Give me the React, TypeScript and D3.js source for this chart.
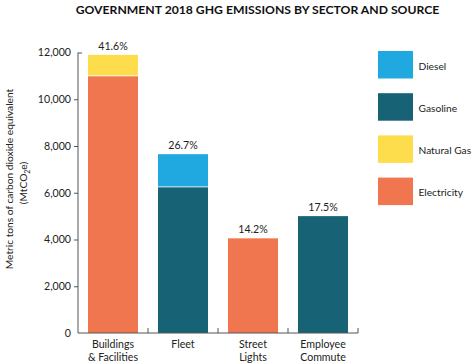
import React, { useRef, useEffect } from 'react';
import * as d3 from 'd3';

const sectors = ['Buildings & Facilities', 'Fleet', 'Street Lights', 'Employee Commute'];
const sectorLines = [['Buildings', '& Facilities'], ['Fleet'], ['Street', 'Lights'], ['Employee', 'Commute']];
const sources = ['Electricity', 'Natural Gas', 'Gasoline', 'Diesel'];
const electricity = [11000, 0, 4050, 0];
const naturalGas = [900, 0, 0, 0];
const gasoline = [0, 6250, 0, 5000];
const diesel = [0, 1400, 0, 0];
const percentLabels = ['41.6%', '26.7%', '14.2%', '17.5%'];
const yTicks = [0, 2000, 4000, 6000, 8000, 10000, 12000];
const legendOrder = ['Diesel', 'Gasoline', 'Natural Gas', 'Electricity'];

const colors: Record<string, string> = {
  Diesel: '#20a9e0',
  Gasoline: '#176275',
  'Natural Gas': '#fedd4c',
  Electricity: '#ef764f',
};

const W = 474;
const H = 364;
const margin = { top: 52.5, right: 116, bottom: 31, left: 78 };
const font = 'Lato, sans-serif';
const fs = 10.6;

export default function App() {
  const svgRef = useRef<SVGSVGElement>(null);

  useEffect(() => {
    if (!svgRef.current) return;
    const svg = d3.select(svgRef.current);
    svg.selectAll('*').remove();

    const innerW = W - margin.left - margin.right;
    const innerH = H - margin.top - margin.bottom;

    const x = d3.scaleBand().domain(sectors).range([0, innerW]).paddingInner(2 / 7).paddingOuter(1 / 7);
    const y = d3.scaleLinear().domain([0, 12000]).range([innerH, 0]);

    const rows = sectors.map((s, i) => ({
      sector: s,
      Electricity: electricity[i],
      'Natural Gas': naturalGas[i],
      Gasoline: gasoline[i],
      Diesel: diesel[i],
    }));
    const totals = rows.map(r => d3.sum(sources, k => (r as any)[k]));
    const stacked = d3.stack<any>().keys(sources)(rows);

    // title
    svg.append('text')
      .attr('x', 257.5)
      .attr('y', 14)
      .attr('text-anchor', 'middle')
      .attr('font-family', font)
      .attr('font-weight', 'bold')
      .attr('font-size', 12.2)
      .attr('fill', '#111')
      .text('GOVERNMENT 2018 GHG EMISSIONS BY SECTOR AND SOURCE');

    const g = svg.append('g').attr('transform', `translate(${margin.left},${margin.top})`);

    // bars
    stacked.forEach(layer => {
      g.append('g')
        .selectAll('rect')
        .data(layer.filter(d => d[1] - d[0] > 0))
        .enter()
        .append('rect')
        .attr('x', d => x(d.data.sector) || 0)
        .attr('y', d => y(d[1]))
        .attr('width', x.bandwidth())
        .attr('height', d => y(d[0]) - y(d[1]))
        .attr('fill', colors[layer.key]);
    });

    // thin white separators between stacked segments
    stacked.slice(0, -1).forEach(layer => {
      g.append('g')
        .selectAll('line')
        .data(layer.filter((d, i) => d[1] - d[0] > 0 && d[1] < totals[i]))
        .enter()
        .append('line')
        .attr('x1', d => x(d.data.sector) || 0)
        .attr('x2', d => (x(d.data.sector) || 0) + x.bandwidth())
        .attr('y1', d => y(d[1]))
        .attr('y2', d => y(d[1]))
        .attr('stroke', '#fff')
        .attr('stroke-width', 0.8);
    });

    // percent labels
    g.selectAll('.pct')
      .data(rows)
      .enter()
      .append('text')
      .attr('x', d => (x(d.sector) || 0) + x.bandwidth() / 2)
      .attr('y', (d, i) => y(totals[i]) - 5)
      .attr('text-anchor', 'middle')
      .attr('font-family', font)
      .attr('font-size', fs)
      .attr('fill', '#222')
      .text((d, i) => percentLabels[i]);

    // y axis
    const yAxis = g.append('g')
      .call(d3.axisLeft(y).tickValues(yTicks).tickSize(4).tickPadding(3).tickFormat(d3.format(',')));
    yAxis.select('.domain').attr('stroke', '#555').attr('d', `M0,${innerH}V0`);
    yAxis.selectAll('.tick line').attr('stroke', '#555');
    yAxis.selectAll('.tick').filter((d: any) => d === 12000).select('line').attr('x2', 4);
    yAxis.selectAll('.tick').filter((d: any) => d === 0).select('line').remove();
    yAxis.selectAll('text').attr('font-family', font).attr('font-size', fs).attr('fill', '#222');

    // x axis
    const xAxis = g.append('g').attr('transform', `translate(0,${innerH})`);
    xAxis.append('line').attr('x1', 0).attr('x2', innerW).attr('stroke', '#555');
    xAxis.selectAll('.xt')
      .data(sectors)
      .enter()
      .append('line')
      .attr('x1', d => (x(d) || 0) + x.step() - x.step() * (1 / 7))
      .attr('x2', d => (x(d) || 0) + x.step() - x.step() * (1 / 7))
      .attr('y1', 0)
      .attr('y2', -5)
      .attr('stroke', '#555');
    sectors.forEach((s, i) => {
      const t = xAxis.append('text')
        .attr('x', (x(s) || 0) + x.bandwidth() / 2)
        .attr('y', 14.5)
        .attr('text-anchor', 'middle')
        .attr('font-family', font)
        .attr('font-size', fs)
        .attr('fill', '#222');
      sectorLines[i].forEach((line, j) => {
        t.append('tspan')
          .attr('x', (x(s) || 0) + x.bandwidth() / 2)
          .attr('dy', j === 0 ? 0 : 13)
          .text(line);
      });
    });

    // y axis title
    svg.append('text')
      .attr('transform', 'translate(13,179) rotate(-90)')
      .attr('text-anchor', 'middle')
      .attr('font-family', font)
      .attr('font-size', 10.2)
      .attr('fill', '#222')
      .text('Metric tons of carbon dioxide equivalent');
    const yTitle2 = svg.append('text')
      .attr('transform', 'translate(27,183) rotate(-90)')
      .attr('text-anchor', 'middle')
      .attr('font-family', font)
      .attr('font-size', 10.2)
      .attr('fill', '#222');
    yTitle2.append('tspan').text('(MtCO');
    yTitle2.append('tspan').attr('font-size', 7).attr('dy', 3).text('2');
    yTitle2.append('tspan').attr('dy', -3).text('e)');

    // legend
    const legend = svg.append('g').attr('transform', 'translate(378,51)');
    legendOrder.forEach((k, i) => {
      const row = legend.append('g').attr('transform', `translate(0,${i * 42.2})`);
      row.append('rect').attr('width', 35).attr('height', 27.5).attr('fill', colors[k]);
      row.append('text')
        .attr('x', 40.5)
        .attr('y', 18.5)
        .attr('font-family', font)
        .attr('font-size', 10.2)
        .attr('fill', '#222')
        .text(k);
    });
  }, []);

  return (
    <svg
      ref={svgRef}
      width={W}
      height={H}
      style={{ position: 'absolute', left: 0, top: 0, background: '#fff' }}
    />
  );
}
